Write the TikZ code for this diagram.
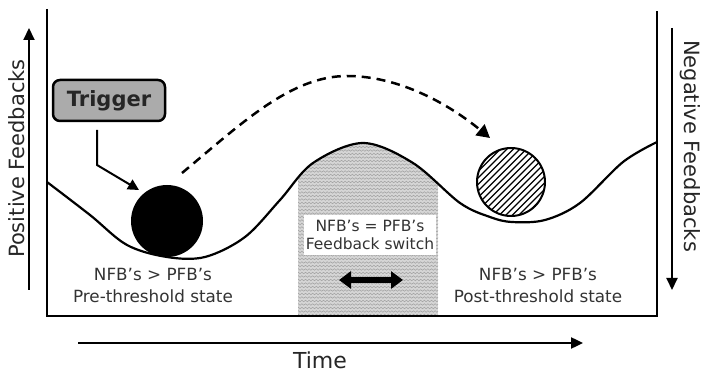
\documentclass[tikz,border=0pt]{standalone}
\usepackage{fontspec}
\setmainfont{DejaVu Sans}
\usetikzlibrary{arrows.meta,decorations.pathmorphing}

\begin{document}
\begin{tikzpicture}[x=1pt,y=-1pt,
  frame/.style={line width=2pt},
  axisarrow/.style={line width=2pt,-{Triangle[width=11pt,length=12pt]}},
  axislabel/.style={font=\fontsize{21}{25}\selectfont,text=black!85,inner sep=0pt},
  statelabel/.style={font=\fontsize{16.8}{21.5}\selectfont,text=black!80,align=center,inner sep=0pt},
  hill/.style={line width=2.2pt},
  waves/.style={black!36,line width=0.55pt,decorate,
    decoration={snake,amplitude=0.8pt,segment length=3.6pt}},
]
\useasboundingbox (0,0) rectangle (702,374);

% shaded switching zone under the hill
\begin{scope}
  \clip (298,0) rectangle (438,316);
  \clip plot[smooth,tension=0.55] coordinates {(47,182) (90,215) (127,245) (167,257) (205,257) (245,237) (280,200) (313,163) (363,143) (413,163) (460,203) (490,217) (512,222) (545,220) (580,203) (623,162) (657,142)} -- (657,316) -- (47,316) -- cycle;
  \fill[gray!32] (298,100) rectangle (438,316);
  \foreach \yy in {140,143.5,...,318} \draw[waves] (290,\yy) -- (446,\yy);
\end{scope}

% stability landscape
\draw[hill] plot[smooth,tension=0.55] coordinates {(47,182) (90,215) (127,245) (167,257) (205,257) (245,237) (280,200) (313,163) (363,143) (413,163) (460,203) (490,217) (512,222) (545,220) (580,203) (623,162) (657,142)};

% frame
\draw[frame] (47,9) -- (47,316) -- (657,316) -- (657,11);

% axes
\coordinate (pfbot) at (29,290);
\coordinate (pftop) at (29,28);
\coordinate (nftop) at (672,28);
\coordinate (nfbot) at (672,290);
\coordinate (tleft) at (78,343);
\coordinate (tright) at (583,343);
\draw[axisarrow] (pfbot) -- (pftop);
\draw[axisarrow] (nftop) -- (nfbot);
\draw[axisarrow,line width=2.4pt] (tleft) -- (tright);
\node[axislabel,rotate=90,anchor=base] (pflabel) at (24,158.5) {Positive Feedbacks};
\node[axislabel,rotate=-90,anchor=base] (nflabel) at (684,146) {Negative Feedbacks};
\node[axislabel,font=\fontsize{22}{26}\selectfont,anchor=base] (tlabel) at (320,368) {Time};

% state labels (base anchor sits on the second line)
\node[statelabel,anchor=base] (pre) at (153,302) {NFB’s > PFB’s\\Pre-threshold state};
\node[statelabel,anchor=base] (post) at (538,302) {NFB’s > PFB’s\\Post-threshold state};
\node[fill=white,inner xsep=2pt,inner ysep=2pt,minimum width=130pt,minimum height=40pt,
  font=\fontsize{15.5}{18}\selectfont,text=black!80,align=center] (switch) at (370,235)
  {NFB’s = PFB’s\\Feedback switch};

% two-way arrow in the switching zone
\coordinate (swl) at (339,280);
\coordinate (swr) at (403,280);
\draw[line width=5.5pt,{Triangle[width=17pt,length=12pt]}-{Triangle[width=17pt,length=12pt]}] (swl) -- (swr);

% balls
\node[circle,fill=black,minimum size=72pt,inner sep=0pt] (ball1) at (167,221) {};
\begin{scope}
  \clip (511,182) circle (34);
  \foreach \d in {-63,-56.5,...,63}
    \draw[line width=1.2pt] ({511+\d-40},222) -- ({511+\d+40},142);
\end{scope}
\node[circle,draw,line width=2pt,minimum size=68pt,inner sep=0pt] (ball2) at (511,182) {};

% trigger
\node[draw,line width=2.5pt,rounded corners=7pt,fill=black!33,minimum width=112pt,
  minimum height=41pt,inner sep=0pt,font=\bfseries\fontsize{21}{24}\selectfont,text=black!85]
  (trigger) at (109,100.5) {Trigger};
\coordinate (tstart) at (97,130);
\coordinate (tbend) at (97,165);
\coordinate (ttip) at (139,190);
\draw[line width=2pt,-{Triangle[width=11pt,length=11pt]}] (tstart) -- (tbend) -- (ttip);

% jump across the threshold
\coordinate (ds) at (182,173);
\coordinate (de) at (490,138);
\draw[line width=2.5pt,dash pattern=on 9pt off 6pt,-{Triangle[width=14pt,length=13pt]}]
  (ds) .. controls (240,125) and (290,76) .. (347,76)
       .. controls (400,76) and (450,105) .. (de);
\end{tikzpicture}
\end{document}
